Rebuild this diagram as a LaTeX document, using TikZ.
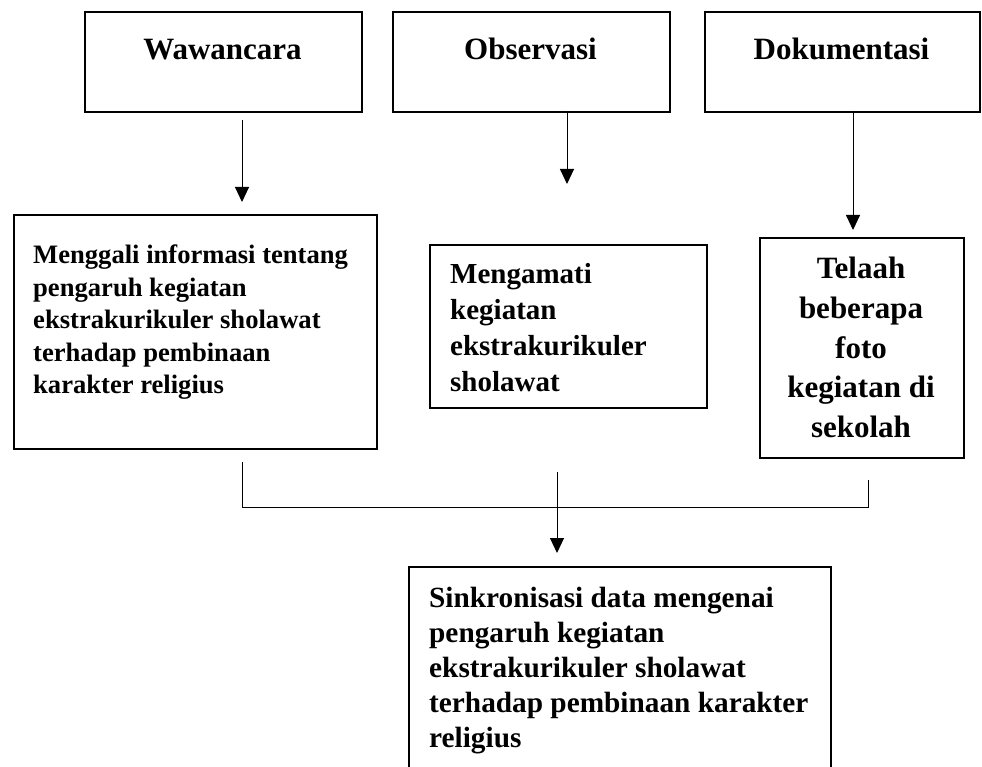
\documentclass[tikz,border=0pt]{standalone}
\usepackage{fontspec}
\setmainfont{Liberation Serif}
\usetikzlibrary{arrows.meta}
\tikzset{
  boxst/.style={draw, line width=2pt, line join=miter, inner sep=0pt, anchor=north west},
  conn/.style={line width=1pt},
  arr/.style={conn, -{Triangle[length=15pt,width=14pt]}},
  txt/.style={inner sep=0pt},
  ttl/.style={txt, anchor=base, font=\fontsize{31}{37}\selectfont\bfseries},
}
\begin{document}
\begin{tikzpicture}[x=1pt,y=-1pt]
\useasboundingbox (0,0) rectangle (982,767);
\clip (0,0) rectangle (982,767);
% top boxes
\node[boxst, minimum width=277pt, minimum height=100pt] (W) at (84,11) {};
\node[boxst, minimum width=277pt, minimum height=100pt] (O) at (392,11) {};
\node[boxst, minimum width=275pt, minimum height=100pt] (D) at (704,11) {};
\node[ttl] (Wt) at (222.5,60) {Wawancara};
\node[ttl] (Ot) at (530.5,60) {Observasi};
\node[ttl] (Dt) at (841.5,60) {Dokumentasi};
% middle boxes
\node[boxst, minimum width=363pt, minimum height=234pt] (M) at (13,214) {};
\node[boxst, minimum width=277pt, minimum height=163pt] (A) at (429,244) {};
\node[boxst, minimum width=204pt, minimum height=220pt] (T) at (759,237) {};
\node[txt, anchor=north west, align=left, font=\fontsize{26.6}{32.6}\selectfont\bfseries] (Mt) at (33,244.6)
  {Menggali informasi tentang\\pengaruh kegiatan\\ekstrakurikuler sholawat\\terhadap pembinaan\\karakter religius};
\node[txt, anchor=north west, align=left, font=\fontsize{29}{36}\selectfont\bfseries] (At) at (450,263)
  {Mengamati\\kegiatan\\ekstrakurikuler\\sholawat};
\node[txt, anchor=north, align=center, font=\fontsize{31}{39.7}\selectfont\bfseries] (Tt) at (861,257)
  {Telaah\\beberapa\\foto\\kegiatan di\\sekolah};
% bottom box
\node[boxst, minimum width=422pt, minimum height=230pt] (S) at (408,566) {};
\node[txt, anchor=north west, align=left, font=\fontsize{29.3}{35}\selectfont\bfseries] (St) at (429,586.8)
  {Sinkronisasi data mengenai\\pengaruh kegiatan\\ekstrakurikuler sholawat\\terhadap pembinaan karakter\\religius};
% connectors
\coordinate (w1) at (242,120); \coordinate (w2) at (242,202);
\coordinate (o1) at (567,111); \coordinate (o2) at (567,184);
\coordinate (d1) at (853,111); \coordinate (d2) at (853,230);
\coordinate (l1) at (242,462); \coordinate (l2) at (242,507);
\coordinate (r1) at (868,480); \coordinate (r2) at (868,507);
\coordinate (m1) at (557,472); \coordinate (m2) at (557,553);
\draw[arr] (w1) -- (w2);
\draw[arr] (o1) -- (o2);
\draw[arr] (d1) -- (d2);
\draw[conn] (l1) -- (l2) -- (r2) -- (r1);
\draw[arr] (m1) -- (m2);
\end{tikzpicture}
\end{document}
